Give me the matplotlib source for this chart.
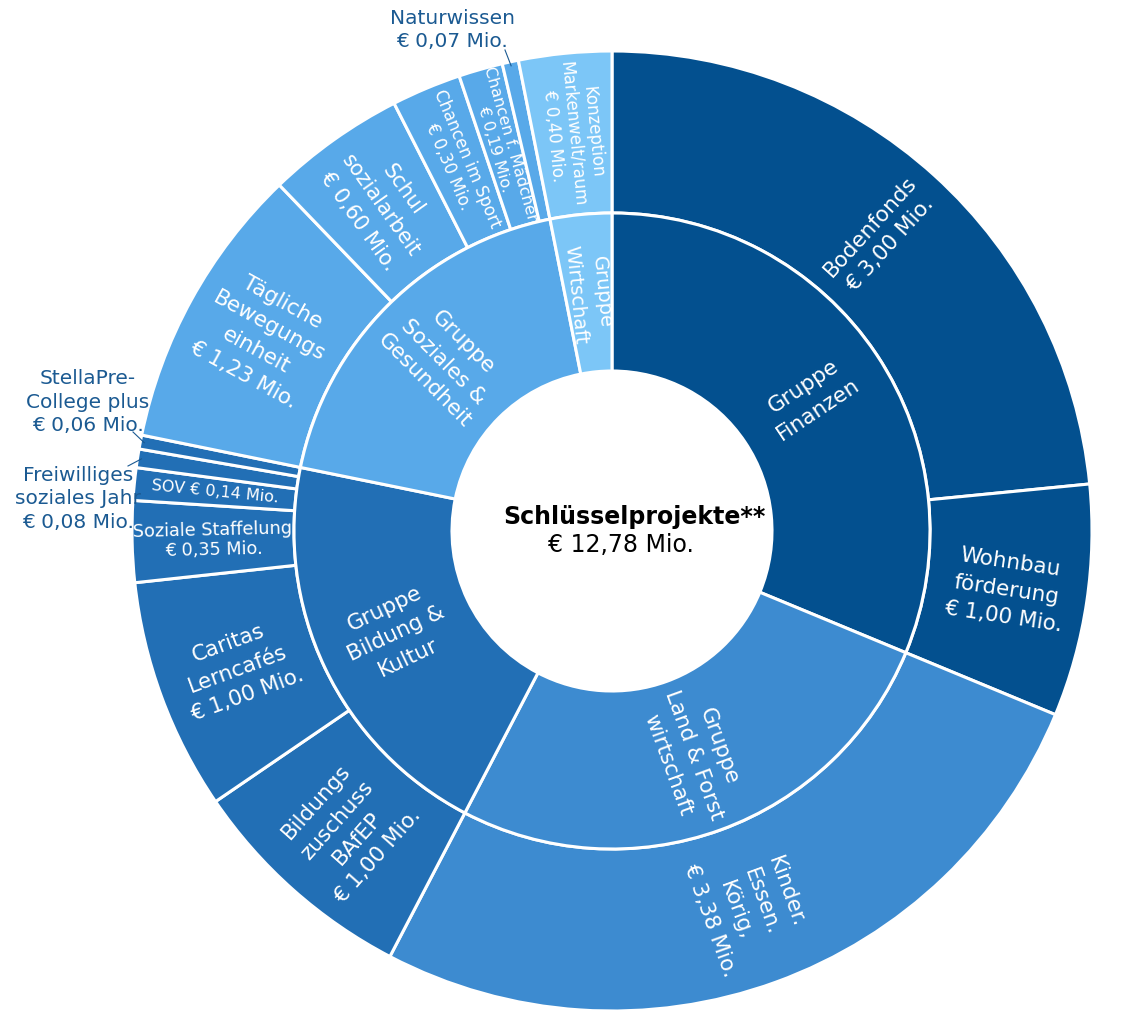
import numpy as np
import matplotlib.pyplot as plt

# Daten: Gruppen (innerer Ring) und Projekte (aeusserer Ring), Werte in Mio. Euro
gruppen = ["Gruppe\nFinanzen",
           "Gruppe\nLand & Forst\nwirtschaft",
           "Gruppe\nBildung &\nKultur",
           "Gruppe\nSoziales &\nGesundheit",
           "Gruppe\nWirtschaft"]

projekte = ["Bodenfonds", "Wohnbau\nförderung",
            "Kinder.\nEssen.\nKörig,",
            "Bildungs\nzuschuss\nBAfEP", "Caritas\nLerncafés", "Soziale Staffelung", "SOV",
            "Freiwilliges\nsoziales Jahr", "StellaPre-\nCollege plus",
            "Tägliche\nBewegungs\neinheit", "Schul\nsozialarbeit", "Chancen im Sport",
            "Chancen f. Mädchen", "Naturwissen",
            "Konzeption\nMarkenwelt/raum"]
werte = [3.00, 1.00, 3.38, 1.00, 1.00, 0.35, 0.14, 0.08, 0.06,
         1.23, 0.60, 0.30, 0.19, 0.07, 0.40]
gruppe_von = [0, 0, 1, 2, 2, 2, 2, 2, 2, 3, 3, 3, 3, 3, 4]

gesamt_titel = "Schlüsselprojekte**"
gesamt_wert = "€ 12,78 Mio."

farben = ["#03508f", "#3d8bd0", "#226fb5", "#58a9e9", "#7cc6f7"]
label_farbe = "#1b5a92"

gruppen_werte = [sum(w for w, g in zip(werte, gruppe_von) if g == i) for i in range(len(gruppen))]


def mio(v):
    return "€ " + ("%.2f" % v).replace(".", ",") + " Mio."


# alles in Pixel-Koordinaten (y nach oben)
W, H = 1134, 1024
cx, cy = 612, 1024 - 531
R_out, R_mid, R_in = 480, 318, 160

fig = plt.figure(figsize=(W / 100, H / 100), dpi=100)
ax = fig.add_axes([0, 0, 1, 1])

wp = dict(edgecolor="white", linewidth=2.2)
w_out, _ = ax.pie(werte, radius=R_out, center=(cx, cy), startangle=90, counterclock=False,
                  colors=[farben[g] for g in gruppe_von],
                  wedgeprops=dict(width=R_out - R_mid, **wp))
w_in, _ = ax.pie(gruppen_werte, radius=R_mid, center=(cx, cy), startangle=90, counterclock=False,
                 colors=farben, wedgeprops=dict(width=R_mid - R_in, **wp))

ax.set_xlim(0, W)
ax.set_ylim(0, H)
ax.set_aspect("equal")
ax.axis("off")


def rad_text(wedge, r, txt, fs):
    a = (wedge.theta1 + wedge.theta2) / 2.0
    x = cx + r * np.cos(np.radians(a))
    y = cy + r * np.sin(np.radians(a))
    rot = a
    while rot > 90:
        rot -= 180
    while rot < -90:
        rot += 180
    ls = 1.45 if fs >= 14 else 1.12
    ax.text(x, y, txt, rotation=rot, rotation_mode="anchor", ha="center", va="center",
            multialignment="center", color="white", fontsize=fs, linespacing=ls, zorder=5)


# kleinere Schrift fuer schmale Segmente
fs_normal = 15.5
fs_spezial = {"Soziale Staffelung": 12.7, "SOV": 11.5, "Chancen im Sport": 12,
              "Chancen f. Mädchen": 11.5, "Konzeption\nMarkenwelt/raum": 12,
              "Schul\nsozialarbeit": 15, "Gruppe\nWirtschaft": 14}

# aussen beschriftete Mini-Segmente: Textposition in Pixeln (x, y von oben)
aussen = {"Naturwissen": (452, 30),
          "StellaPre-\nCollege plus": (88, 402),
          "Freiwilliges\nsoziales Jahr": (78, 499)}
linien_ende = {"Naturwissen": (505, 50),
               "StellaPre-\nCollege plus": (133, 432),
               "Freiwilliges\nsoziales Jahr": (128, 466)}

for wedge, name, v in zip(w_out, projekte, werte):
    if name in aussen:
        px, py = aussen[name]
        ax.text(px, H - py, name + "\n" + mio(v), ha="center", va="center",
                multialignment="center", color=label_farbe, fontsize=14.5,
                linespacing=1.3, zorder=1)
        a = np.radians((wedge.theta1 + wedge.theta2) / 2.0)
        lx, ly = linien_ende[name]
        ax.plot([cx + (R_out - 4) * np.cos(a), lx], [cy + (R_out - 4) * np.sin(a), H - ly],
                color=label_farbe, lw=0.8, zorder=4)
        continue
    if name == "SOV":
        txt = name + " " + mio(v)
    else:
        txt = name + "\n" + mio(v)
    rad_text(wedge, (R_out + R_mid) / 2.0, txt, fs_spezial.get(name, fs_normal))

for wedge, name in zip(w_in, gruppen):
    rad_text(wedge, (R_mid + R_in) / 2.0, name, fs_spezial.get(name, fs_normal))

# Mitte
ax.text(634, H - 517, gesamt_titel, ha="center", va="center", fontsize=17,
        fontweight="bold", color="black")
ax.text(621, H - 545, gesamt_wert, ha="center", va="center", fontsize=17, color="black")

plt.savefig("out.png", dpi=100)
